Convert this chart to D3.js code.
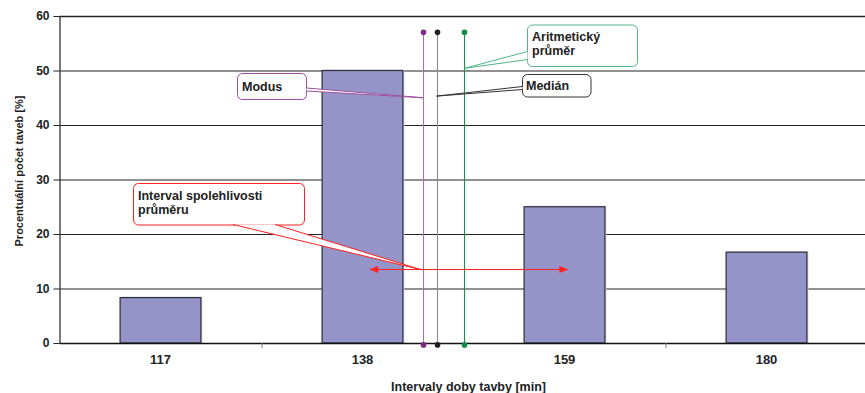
<!DOCTYPE html>
<html><head><meta charset="utf-8">
<script src="https://cdn.jsdelivr.net/npm/d3@7"></script>
<style>body{margin:0;background:#fff;} svg{display:block;font-family:"Liberation Sans",Arial,sans-serif;}</style>
</head><body><svg id="c" width="865" height="393"></svg>
<script>
// ---- data ----
const categories = ["117","138","159","180"];
const percentValues = [8.33, 50, 25, 16.67];
const yTicks = [0,10,20,30,40,50,60];
const statNames = ["Modus","Medián","Aritmetický průměr"];
const statValues = [144.3, 145.7, 148.6];     // minutes
const statLineTop = 57;                       // %
const confInterval = [138.7, 159.4];          // minutes
const confLevel = 13.5;                       // %
const xTitle = "Intervaly doby tavby [min]";
const yTitle = "Procentuální počet taveb [%]";

// ---- layout ----
const svg = d3.select("#c");
const L = 59.5, R = 867.5, T = 16, B = 343;
const fontFam = "'Liberation Sans', Arial, sans-serif";
const font = s => `bold ${s}px ${fontFam}`;

const x = d3.scaleBand().domain(categories).range([L, R]).padding(0);
const xc = c => x(c) + x.bandwidth()/2;
const xLin = d3.scaleLinear().domain([+categories[0], +categories[categories.length-1]])
  .range([xc(categories[0]), xc(categories[categories.length-1])]);
const y = d3.scaleLinear().domain([0,60]).range([B, T]);

// gridlines
svg.append("g").selectAll("line").data(yTicks.filter(d=>d>0)).join("line")
  .attr("x1", L).attr("x2", 865).attr("y1", d=>y(d)+0.5).attr("y2", d=>y(d)+0.5)
  .attr("stroke", "#222").attr("stroke-width", d=>d===60?1.4:1);

// bars
const barW = x.bandwidth()*0.4;
svg.append("g").selectAll("rect.sh").data(percentValues).join("rect")
  .attr("x",(d,i)=>xc(categories[i])-barW/2+1.5).attr("y",d=>y(d)-1)
  .attr("width",barW).attr("height",d=>B-y(d)+1).attr("fill","#d8d8d8");
svg.append("g").selectAll("rect.b").data(percentValues).join("rect")
  .attr("x",(d,i)=>xc(categories[i])-barW/2).attr("y",d=>y(d))
  .attr("width",barW).attr("height",d=>B-y(d))
  .attr("fill","#9494c8").attr("stroke","#2c2c3c").attr("stroke-width",1.2);

// y axis
const ya = svg.append("g").attr("transform",`translate(${L},0)`)
  .call(d3.axisLeft(y).tickValues(yTicks).tickSize(6).tickPadding(5));
ya.select(".domain").attr("stroke","#222").attr("stroke-width",1.2).attr("d",`M0.5,${T}V${B}`);
ya.selectAll(".tick line").attr("stroke","#222");
ya.selectAll("text").style("font",font(12)).attr("fill","#222").attr("x",-10);

// x axis
const xa = svg.append("g").attr("transform",`translate(0,${B})`)
  .call(d3.axisBottom(x).tickSize(0));
xa.select(".domain").attr("d",`M${L},0.5H865`).attr("stroke","#111").attr("stroke-width",1.3);
xa.selectAll("text").style("font",font(13)).attr("fill","#222").attr("dy",null).attr("y",21);
svg.append("g").selectAll("line").data(categories.slice(1)).join("line")
  .attr("x1",d=>x(d)+0.5).attr("x2",d=>x(d)+0.5).attr("y1",B).attr("y2",B+5)
  .attr("stroke","#777");

// titles
svg.append("text").attr("x",468.5).attr("y",390.5).attr("text-anchor","middle")
  .style("font",font(12.5)).attr("fill","#222").text(xTitle);
svg.append("text").attr("transform","translate(23,171) rotate(-90)").attr("text-anchor","middle")
  .style("font",font(11)).attr("fill","#222").text(yTitle);

// stat lines
const lineCols = ["#a772ab","#8a8a8a","#1e8a4e"];
const dotCols = ["#7d2a82","#1e1e1e","#0f8c48"];
statValues.forEach((v,i)=>{
  const px = Math.round(xLin(v)) + 0.5;
  svg.append("line").attr("x1",px).attr("x2",px).attr("y1",y(statLineTop)).attr("y2",y(-0.35))
    .attr("stroke",lineCols[i]).attr("stroke-width",1.1);
  [statLineTop,-0.35].forEach(t=>svg.append("circle").attr("cx",px).attr("cy",y(t)).attr("r",2.8).attr("fill",dotCols[i]));
});

// confidence interval arrow
const red = "#ff2020";
const ay = Math.round(y(confLevel)) + 0.5;
svg.append("line").attr("x1",xLin(confInterval[0])+4).attr("x2",xLin(confInterval[1])-4)
  .attr("y1",ay).attr("y2",ay).attr("stroke",red).attr("stroke-width",1);
[[confInterval[0],1],[confInterval[1],-1]].forEach(([v,dir])=>{
  const px = xLin(v);
  svg.append("path").attr("d",`M${px},${ay}L${px+dir*9},${ay-3.5}L${px+dir*9},${ay+3.5}Z`).attr("fill",red);
});

// callouts: box [x0,y0,x1,y1] in px, wedge base two points, target in data units
function callout(box, base, target, color, lines, tx, ty) {
  const g = svg.append("g");
  const tp = [xLin(target[0]), y(target[1])];
  g.append("rect").attr("x",box[0]+0.5).attr("y",box[1]+0.5).attr("width",box[2]-box[0]).attr("height",box[3]-box[1])
    .attr("rx",5).attr("fill","#fff").attr("stroke",color).attr("stroke-width",1);
  g.append("path").attr("d",`M${base[0][0]},${base[0][1]}L${tp[0]},${tp[1]}L${base[1][0]},${base[1][1]}Z`)
    .attr("fill","#fff").attr("stroke","none");
  g.append("path").attr("d",`M${base[0][0]},${base[0][1]}L${tp[0]},${tp[1]}L${base[1][0]},${base[1][1]}`)
    .attr("fill","none").attr("stroke",color).attr("stroke-width",1);
  lines.forEach((t,k)=>g.append("text").attr("x",tx).attr("y",ty+k*14).style("font",font(12.5)).attr("fill","#222").text(t));
}
callout([133,183,304,224.5], [[233,224.5],[275,224.5]], [144,confLevel], red,
  ["Interval spolehlivosti","průměru"], 138, 199.5);
callout([237,73,306,99], [[306.5,88],[306.5,91]], [statValues[0],45], "#9b4f9e", ["Modus"], 242, 90.5);
callout([522,74,590.5,96.5], [[522.5,86.5],[522.5,89.5]], [statValues[1],45.3], "#333", ["Medián"], 526, 90);
callout([527,24.5,637,66], [[527.5,51.5],[527.5,59.5]], [statValues[2],50.4], "#55b585", ["Aritmetický","průměr"], 532, 40.5);
</script></body></html>
